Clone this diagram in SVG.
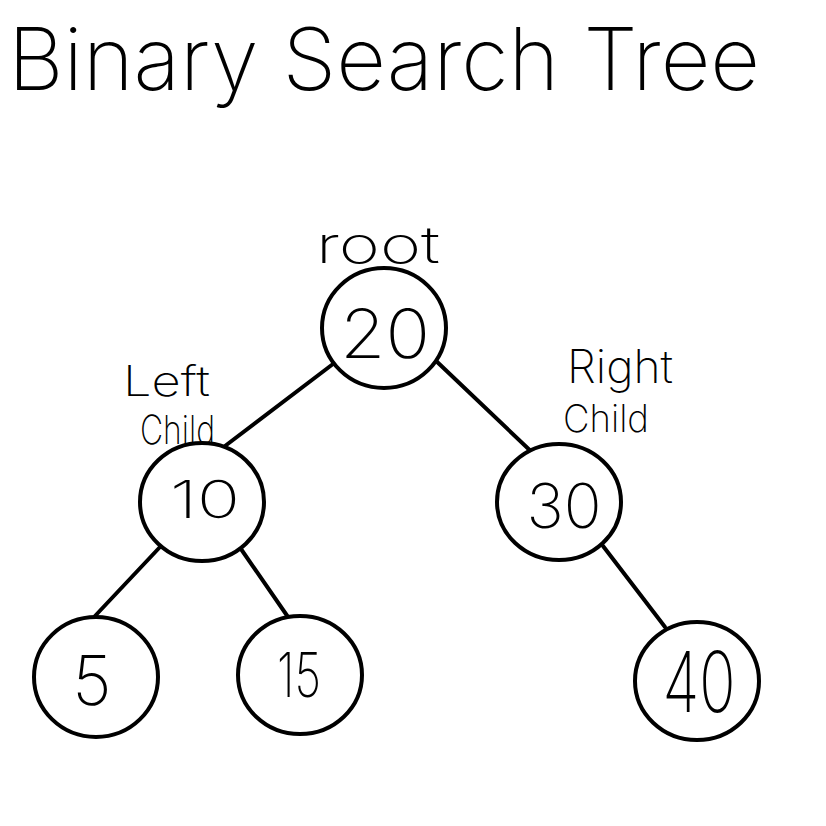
<svg xmlns="http://www.w3.org/2000/svg" width="826" height="826" viewBox="0 0 826 826">
<style>
.node{fill:#fff;stroke:#000;stroke-width:4}
.edge{stroke:#000;stroke-width:4;stroke-linecap:round;fill:none}
text{font-family:Inter,"Liberation Sans",Arial,sans-serif;font-weight:200;fill:#000}
.num{text-anchor:middle}
</style>
<rect width="826" height="826" fill="#fff"/>
<text x="8" y="90" font-size="86" textLength="752" lengthAdjust="spacingAndGlyphs">Binary Search Tree</text>
<g id="connectors">
<line class="edge" x1="333" y1="364" x2="225" y2="446"/>
<line class="edge" x1="433" y1="358" x2="537" y2="457"/>
<line class="edge" x1="160" y1="547" x2="95" y2="616"/>
<line class="edge" x1="241" y1="549" x2="288" y2="617"/>
<line class="edge" x1="603" y1="546" x2="665" y2="627"/>
</g>
<g id="label-root"><text x="316" y="263" font-size="50" textLength="124" lengthAdjust="spacingAndGlyphs">root</text></g>
<g id="label-left"><text x="123" y="396" font-size="42" textLength="87" lengthAdjust="spacingAndGlyphs">Left</text><text x="140" y="444" font-size="40" textLength="75" lengthAdjust="spacingAndGlyphs">Child</text></g>
<g id="label-right"><text x="567" y="383" font-size="46" textLength="106" lengthAdjust="spacingAndGlyphs">Right</text><text x="563" y="432" font-size="38" textLength="86" lengthAdjust="spacingAndGlyphs">Child</text></g>
<g id="n20"><ellipse class="node" cx="384" cy="328" rx="62" ry="60"/><text class="num" x="385" y="358" font-size="68" textLength="90" lengthAdjust="spacingAndGlyphs">20</text></g>
<g id="n10"><ellipse class="node" cx="202" cy="502" rx="62" ry="59"/><text class="num" x="205" y="518" font-size="52" textLength="70" lengthAdjust="spacingAndGlyphs">10</text></g>
<g id="n30"><ellipse class="node" cx="559" cy="502" rx="62" ry="58"/><text class="num" x="564" y="528" font-size="62" textLength="75" lengthAdjust="spacingAndGlyphs">30</text></g>
<g id="n5"><ellipse class="node" cx="96" cy="677" rx="62" ry="60"/><text class="num" x="92" y="705" font-size="68">5</text></g>
<g id="n15"><ellipse class="node" cx="300" cy="675" rx="62" ry="59"/><text class="num" x="299" y="697" font-size="62" textLength="44" lengthAdjust="spacingAndGlyphs">15</text></g>
<g id="n40"><ellipse class="node" cx="697" cy="681" rx="62" ry="59"/><text class="num" x="699" y="712" font-size="84" textLength="73" lengthAdjust="spacingAndGlyphs">40</text></g>
</svg>
